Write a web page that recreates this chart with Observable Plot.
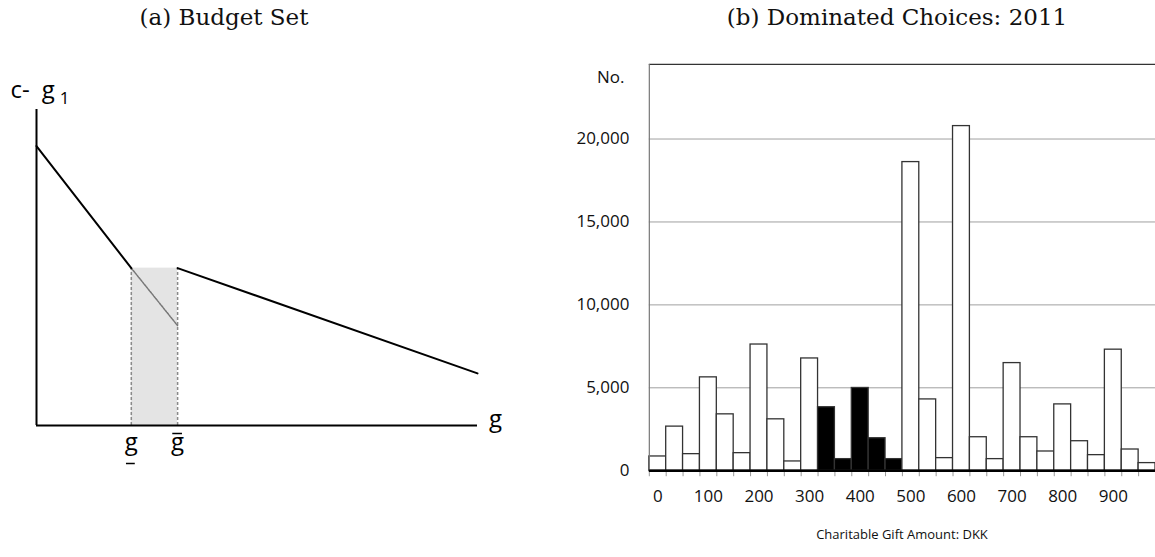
<!DOCTYPE html>
<html>
<head>
<meta charset="utf-8">
<script src="https://cdn.jsdelivr.net/npm/d3@7"></script>
<script src="https://cdn.jsdelivr.net/npm/@observablehq/plot@0.6"></script>
<style>
  html, body { margin: 0; padding: 0; background: #fff; overflow: hidden; }
  #wrap { position: relative; width: 1155px; height: 557px; overflow: hidden; background: #fff; }
  .title { position: absolute; font-family: "DejaVu Serif", serif; font-size: 23px; line-height: 22px; color: #111; text-align: center; white-space: nowrap; }
  .caption { position: absolute; font-family: "Open Sans", sans-serif; font-size: 13px; line-height: 13px; color: #111; text-align: center; white-space: nowrap; }
  .panel { position: absolute; top: 0; }
</style>
</head>
<body>
<div id="wrap">
  <div class="title" style="left:0; width:448px; top:6px;">(a) Budget Set</div>
  <div class="title" style="left:597px; width:600px; top:6px;">(b) Dominated Choices: 2011</div>
  <div class="panel" id="pa" style="left:0;"></div>
  <div class="panel" id="pb" style="left:540px;"></div>
  <div class="caption" style="left:752px; width:300px; top:528px;">Charitable Gift Amount: DKK</div>
</div>
<script>
// ---------- Panel (a): budget set (schematic units 0..100) ----------
const gLow = 21.5;            // g (lower threshold)
const gHigh = 32;             // g-bar (upper threshold)
const lowSegG = [0, 21.5];    // steep part of the budget line
const lowSegC = [88.4, 49.8];
const highSegG = [32, 100];   // flat part after the jump
const highSegC = [49.8, 16.5];
const domSegG = [21.5, 32];   // dominated (dashed) continuation
const domSegC = [49.8, 31.6];
const shadeTop = 49.8;
const axisMax = 100;

// ---------- Panel (b): histogram of gifts ----------
const tickLabels = ["0", "100", "200", "300", "400", "500", "600", "700", "800", "900"];
const counts = [860, 2660, 1000, 5630, 3400, 1060, 7610, 3100, 560, 6770,
                3830, 700, 4990, 1960, 700, 18610, 4300, 760, 20780, 2020,
                700, 6490, 2020, 1160, 4000, 1780, 940, 7300, 1280, 460];
const dominatedBins = [10, 11, 12, 13, 14];
const yTicks = [0, 5000, 10000, 15000, 20000];
const yTop = 24500;

const pts = (gs, cs) => gs.map((g, i) => ({g, c: cs[i]}));

const pa = Plot.plot({
  width: 530, height: 500,
  marginLeft: 36, marginRight: 53, marginTop: 109, marginBottom: 75,
  x: {domain: [0, axisMax], axis: null},
  y: {domain: [0, axisMax], axis: null},
  style: {background: "transparent", overflow: "visible", fontFamily: "Open Sans, sans-serif"},
  marks: [
    Plot.rect([{x1: gLow, x2: gHigh}], {x1: "x1", x2: "x2", y1: 0, y2: shadeTop, fill: "#e4e4e4"}),
    Plot.ruleX([gLow, gHigh], {y1: 0, y2: shadeTop, stroke: "#8a8a8a", strokeWidth: 1.5, strokeDasharray: "3,2"}),
    Plot.ruleY([0], {x1: gLow, x2: gHigh, stroke: "#999", strokeWidth: 1, strokeDasharray: "2,1"}),
    Plot.line(pts(domSegG, domSegC), {x: "g", y: "c", stroke: "#777", strokeWidth: 1.5, strokeDasharray: "2,1"}),
    Plot.ruleX([0], {y1: 0, y2: axisMax, stroke: "#000", strokeWidth: 2}),
    Plot.ruleY([0], {x1: 0, x2: axisMax, stroke: "#000", strokeWidth: 2}),
    Plot.line(pts(lowSegG, lowSegC), {x: "g", y: "c", stroke: "#000", strokeWidth: 2}),
    Plot.line(pts(highSegG, highSegC), {x: "g", y: "c", stroke: "#000", strokeWidth: 2}),
    // axis labels
    Plot.text(["c-\u2002g"], {x: 0, y: axisMax, text: d => d, textAnchor: "start", dx: -26, dy: -19, fontSize: 24, fill: "#000"}),
    Plot.text(["1"], {x: 0, y: axisMax, text: d => d, textAnchor: "middle", dx: 28, dy: -11, fontSize: 17, fill: "#000"}),
    Plot.text(["g"], {x: axisMax, y: 0, text: d => d, textAnchor: "middle", dx: 18, dy: -6, fontSize: 24, fill: "#000"}),
    Plot.text([gLow, gHigh], {x: d => d, y: 0, text: () => "g", textAnchor: "middle", dy: 17, fontSize: 24, fill: "#000"}),
    Plot.ruleY([0], {x1: gLow - 1.1, x2: gLow + 0.9, dy: 38, stroke: "#000", strokeWidth: 1.5}),
    Plot.ruleY([0], {x1: gHigh - 1.1, x2: gHigh + 1.1, dy: 8, stroke: "#000", strokeWidth: 1.5})
  ]
});
document.getElementById("pa").appendChild(pa);

const bins = counts.map((count, i) => ({i, count, dom: dominatedBins.includes(i)}));

const pb = Plot.plot({
  width: 616, height: 557,
  marginLeft: 109, marginRight: 0, marginTop: 64, marginBottom: 86,
  x: {domain: [0, counts.length], axis: null},
  y: {domain: [0, yTop], axis: null},
  style: {background: "transparent", overflow: "visible", fontFamily: "Open Sans, sans-serif", color: "#111"},
  marks: [
    Plot.gridY(yTicks.filter(d => d > 0), {stroke: "#a0a0a0", strokeOpacity: 1, strokeWidth: 1}),
    Plot.rectY(bins, {x1: d => d.i, x2: d => d.i + 1, y: "count", fill: d => d.dom ? "#000" : "#fff", stroke: "#333", strokeWidth: 1.3}),
    Plot.ruleY([yTop], {stroke: "#333", strokeWidth: 1.2}),
    Plot.ruleX([0], {y1: 0, y2: yTop, stroke: "#777", strokeWidth: 1.2}),
    Plot.axisX({ticks: d3.range(0, counts.length + 1), tickSize: 6, tickFormat: () => "", stroke: "#999", label: null}),
    Plot.ruleY([0], {stroke: "#000", strokeWidth: 2.5}),
    Plot.axisX({ticks: tickLabels.map((_, k) => 3 * k + 0.5), tickSize: 0, tickPadding: 19, label: null,
                tickFormat: d => tickLabels[Math.round((d - 0.5) / 3)], fontSize: 17}),
    Plot.axisY({ticks: yTicks, tickSize: 0, tickPadding: 20, tickFormat: d3.format(","), fontSize: 17, label: null}),
    Plot.text(["No."], {frameAnchor: "top-left", text: d => d, textAnchor: "end", dx: -25, dy: 7, fontSize: 17, fill: "#111"})
  ]
});
document.getElementById("pb").appendChild(pb);
</script>
</body>
</html>
